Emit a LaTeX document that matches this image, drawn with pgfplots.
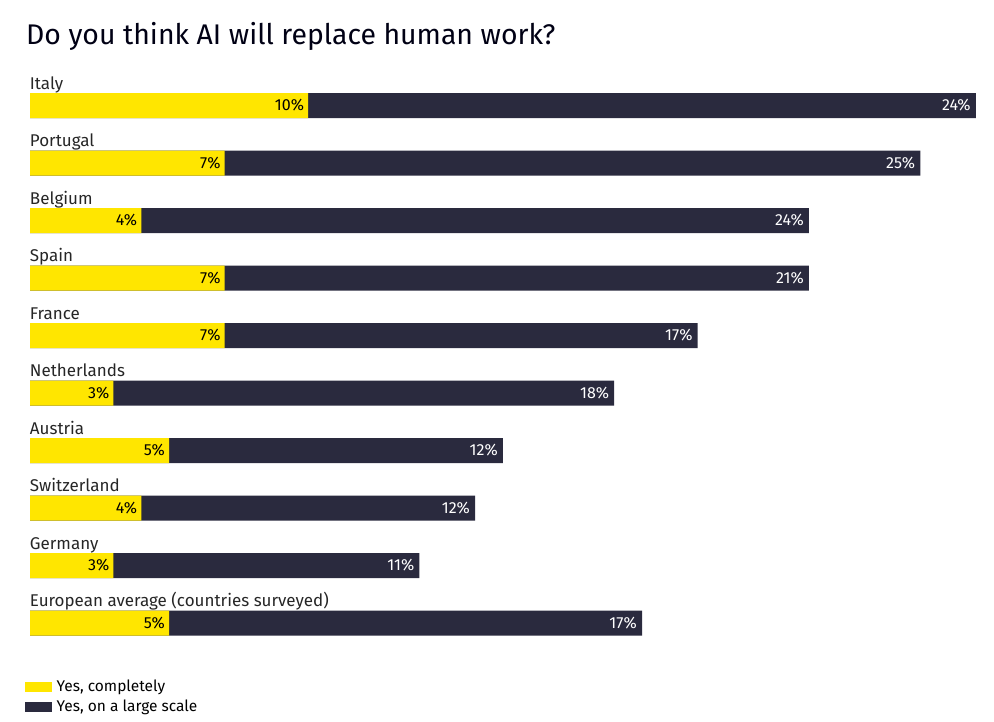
\documentclass[border=0pt]{standalone}
\usepackage{fontspec}
\setmainfont{Fira Sans}
\usepackage{pgfplots}
\usepackage{pgfplotstable}
\pgfplotsset{compat=1.18}
\definecolor{eyyellow}{RGB}{255,230,0}
\definecolor{eynavy}{RGB}{42,42,62}
% a = yes completely, b = yes on a large scale, t = a+b (end of bar)
\pgfplotstableread{
y a b t
0 10 24 34
1 7 25 32
2 4 24 28
3 7 21 28
4 7 17 24
5 3 18 21
6 5 12 17
7 4 12 16
8 3 11 14
9 5 17 22
}\data
\begin{document}
\begin{tikzpicture}[x=1pt,y=1pt]
\path (0,0) rectangle (994,721);
\node[anchor=base west, inner sep=0pt, font=\fontsize{28.4}{32}\selectfont, text=black!92!blue] at (26,676) {Do you think AI will replace human work?};
\begin{axis}[
  at={(30pt,69.25pt)}, anchor=south west,
  scale only axis, width=945.9pt, height=575pt,
  xmin=0, xmax=34, ymin=-0.5, ymax=9.5, y dir=reverse,
  xbar, bar width=25pt, bar shift=0pt,
  axis line style={draw=none}, tick style={draw=none}, xtick=\empty,
  ytick={0,...,9},
  yticklabels={Italy,Portugal,Belgium,Spain,France,Netherlands,Austria,Switzerland,Germany,European average (countries surveyed)},
  yticklabel style={anchor=base west, inner sep=0pt, xshift=4pt, yshift=16.5pt, font=\fontsize{17}{20}\selectfont, text=black!85},
  /pgf/number format/assume math mode=true,
  point meta=explicit,
  nodes near coords={\pgfmathprintnumber{\pgfplotspointmeta}\%},
  legend image code/.code={\fill[#1] (0pt,-5pt) rectangle (27pt,5pt);},
  legend style={at={(axis cs:-0.18,9.957)}, anchor=north west, draw=none, fill=none, inner sep=0pt, font=\fontsize{15.5}{17}\selectfont, row sep=3pt, cells={anchor=west}, /tikz/every odd column/.append style={column sep=2.5pt}},
  reverse legend,
  clip=false,
]
\addplot[fill=eynavy, draw=none,
  every node near coord/.append style={anchor=east, inner sep=0pt, xshift=-5pt, font=\fontsize{16}{18}\selectfont, text=white}]
  table[x=t, y=y, meta=b] {\data};
\addlegendentry{Yes, on a large scale}
\addplot[fill=eyyellow, draw=none,
  every node near coord/.append style={anchor=east, inner sep=0pt, xshift=-4pt, font=\fontsize{16}{18}\selectfont, text=black}]
  table[x=a, y=y, meta=a] {\data};
\addlegendentry{Yes, completely}
\end{axis}
\end{tikzpicture}
\end{document}
